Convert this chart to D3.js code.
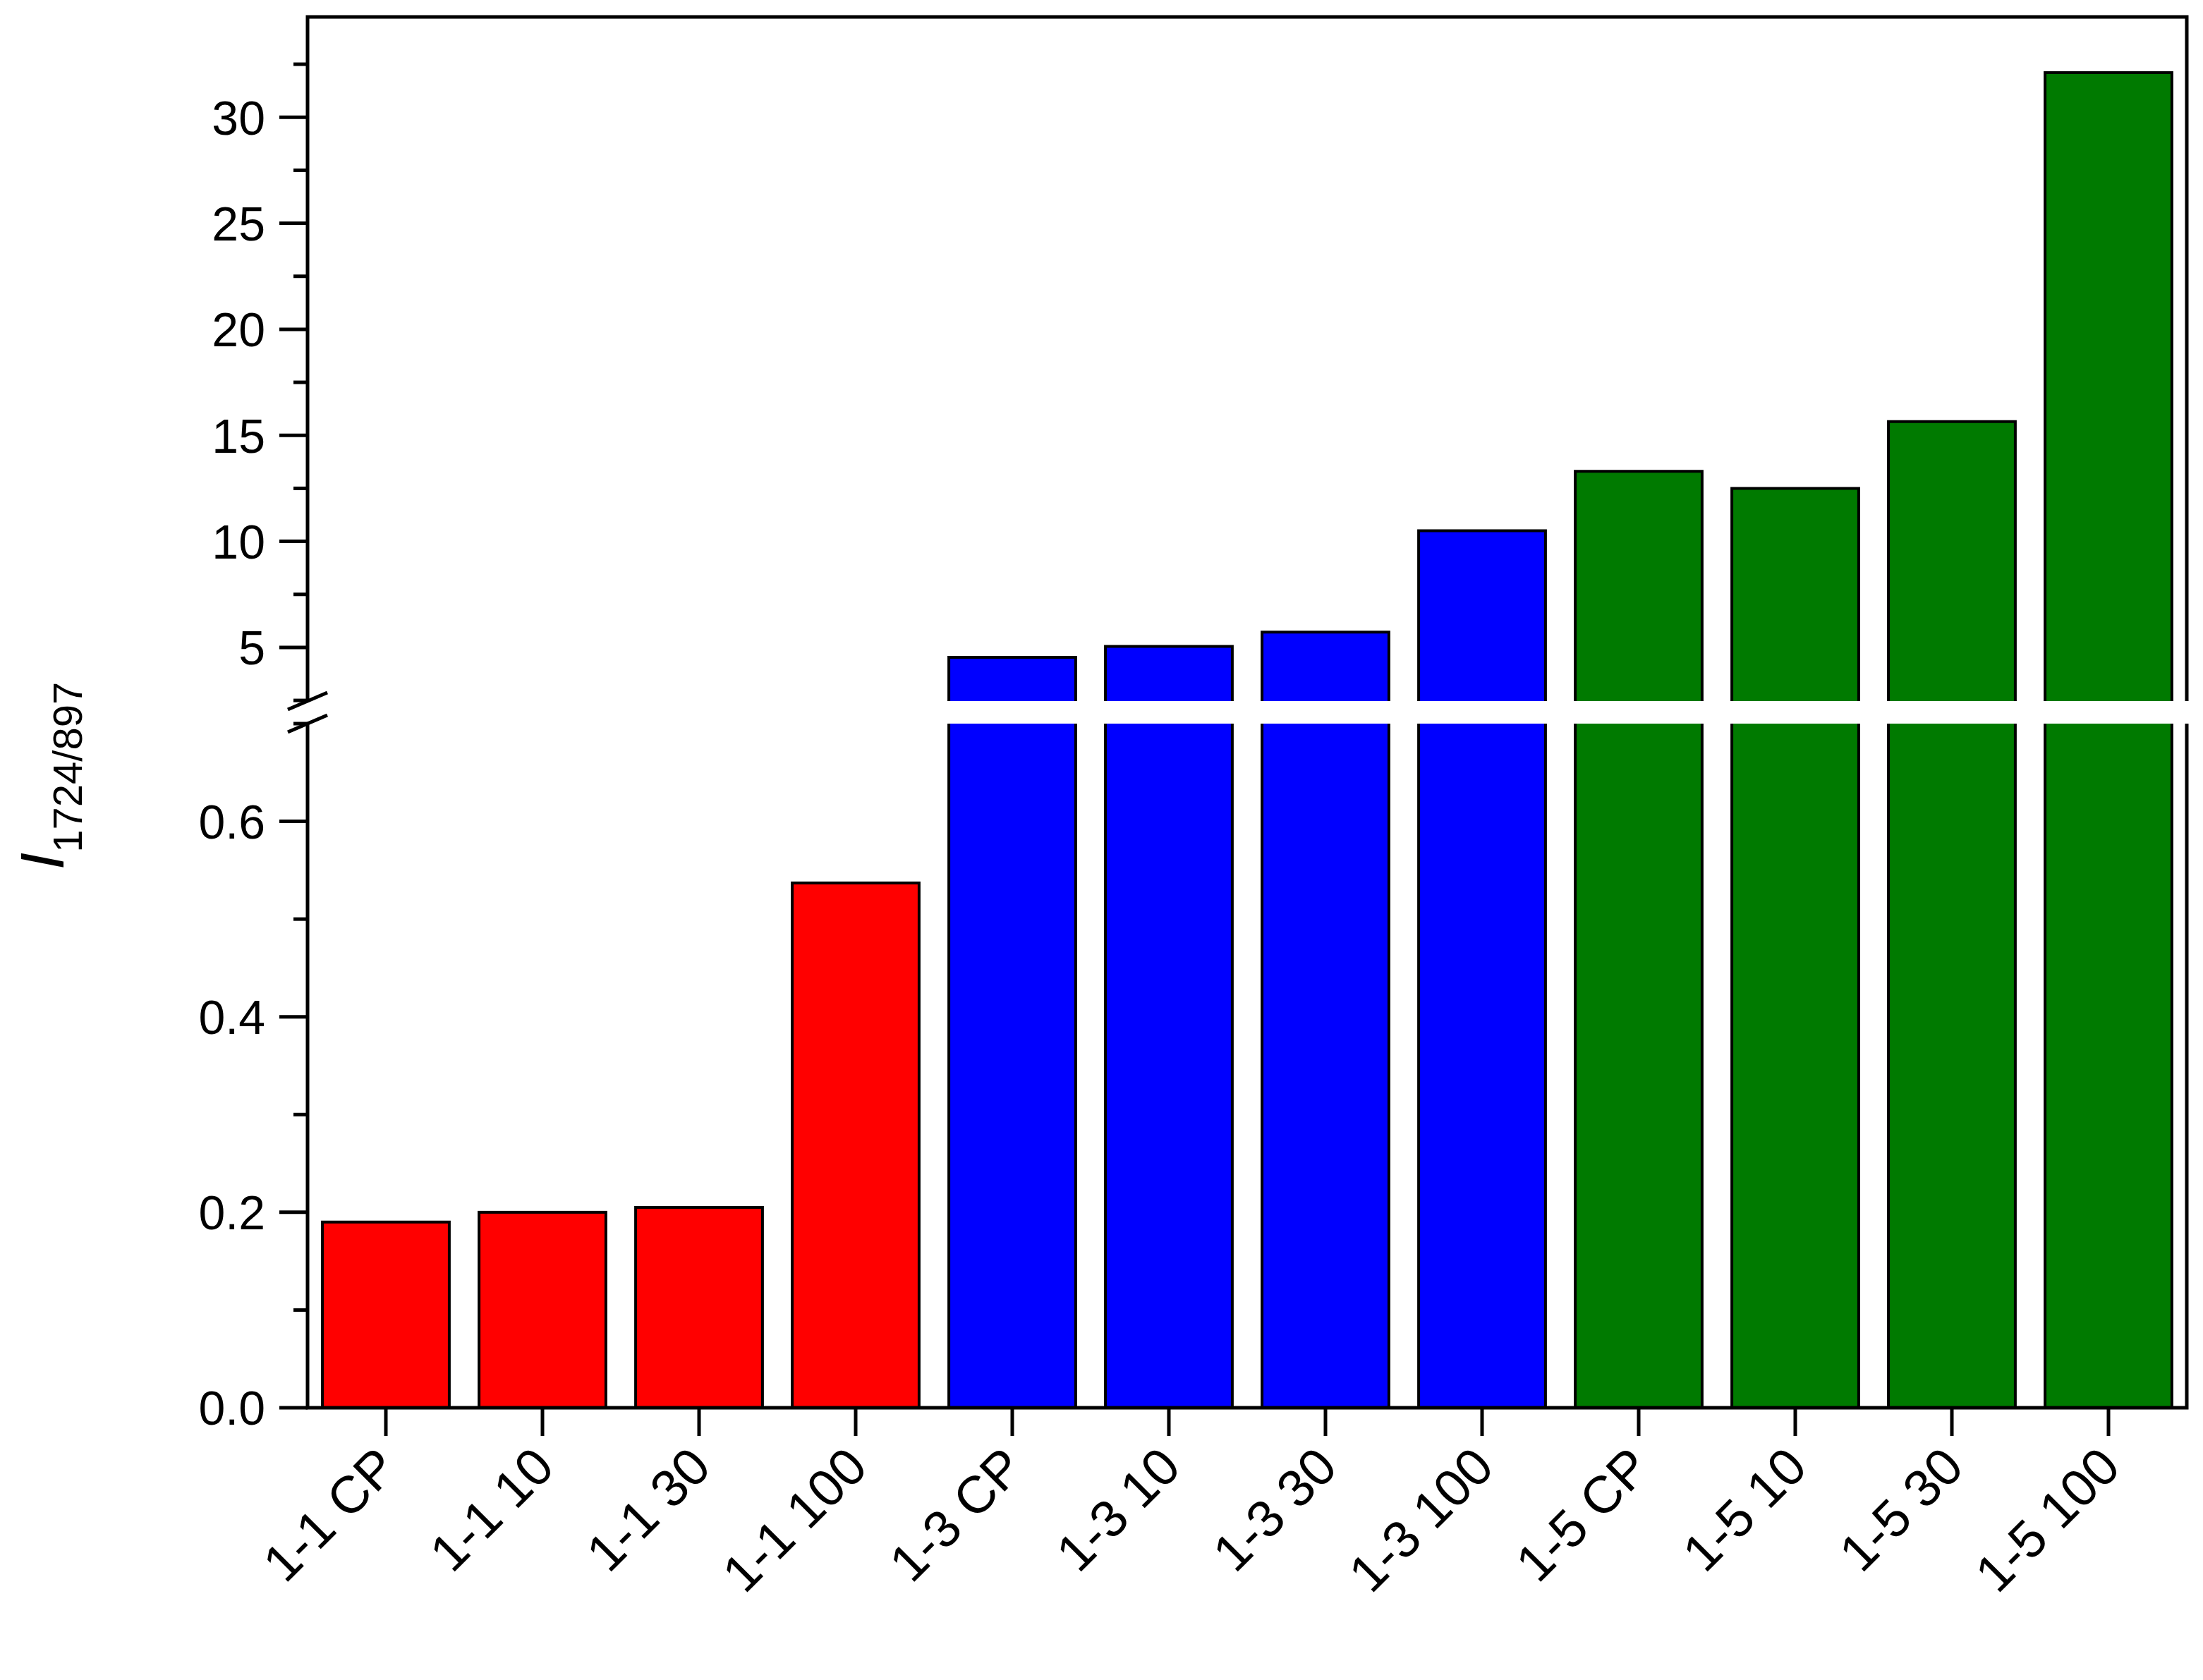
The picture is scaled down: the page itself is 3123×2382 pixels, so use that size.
<!DOCTYPE html>
<meta charset="utf-8">
<style>
	body { margin: 0; background: #fff; }
	text { font-family: Arial, "Liberation Sans", sans-serif; fill: #000; }
</style>
<body>
<svg id="chart" width="3123" height="2382" viewBox="0 0 1561.5 1191"></svg>
<script src="https://cdn.jsdelivr.net/npm/d3@7"></script>
<script>
	var categories = ["1-1 CP", "1-1 10", "1-1 30", "1-1 100", "1-3 CP", "1-3 10", "1-3 30", "1-3 100", "1-5 CP", "1-5 10", "1-5 30", "1-5 100"];
	var values = [0.19, 0.2, 0.205, 0.537, 4.53, 5.05, 5.72, 10.5, 13.3, 12.5, 15.65, 32.1];
	var barColors = ["#ff0000", "#ff0000", "#ff0000", "#ff0000", "#0000ff", "#0000ff", "#0000ff", "#0000ff", "#007a00", "#007a00", "#007a00", "#007a00"];
	var lowerTicks = [0.0, 0.2, 0.4, 0.6];
	var lowerMinor = [0.1, 0.3, 0.5, 0.7];
	var upperTicks = [5, 10, 15, 20, 25, 30];
	var upperMinor = [2.5, 7.5, 12.5, 17.5, 22.5, 27.5, 32.5];

	var pLeft = 218, pRight = 1550, pTop = 12, pBottom = 998;
	var gapTop = 497, gapBot = 513;
	var svg = d3.select("#chart");

	var x = d3.scaleBand().domain(categories).range([pLeft, pRight]).paddingInner(0.19).paddingOuter(0.095);
	var yLow = d3.scaleLinear().domain([0, 0.7]).range([pBottom, gapBot]);
	var yUp = d3.scaleLinear().domain([2.47, 34.73]).range([gapTop, pTop]);

	// bars: lower part then upper part
	categories.forEach(function(c, i) {
		var v = values[i];
		if (v <= 0.7) {
			svg.append("rect").attr("x", x(c)).attr("width", x.bandwidth())
				.attr("y", yLow(v)).attr("height", pBottom - yLow(v))
				.attr("fill", barColors[i]).attr("stroke", "#000").attr("stroke-width", 2);
		} else {
			svg.append("path")
				.attr("d", "M" + x(c) + "," + gapBot + "V" + pBottom + "H" + (x(c) + x.bandwidth()) + "V" + gapBot)
				.attr("fill", barColors[i]).attr("stroke", "#000").attr("stroke-width", 2);
			svg.append("path")
				.attr("d", "M" + x(c) + "," + gapTop + "V" + yUp(v) + "H" + (x(c) + x.bandwidth()) + "V" + gapTop)
				.attr("fill", barColors[i]).attr("stroke", "#000").attr("stroke-width", 2);
		}
	});

	// frame
	function line(d) {
		return svg.append("path").attr("d", d).attr("stroke", "#000").attr("stroke-width", 2.5).attr("fill", "none");
	}
	line("M" + pLeft + "," + gapTop + "V" + pTop + "H" + pRight + "V" + gapTop);
	line("M" + pLeft + "," + gapBot + "V" + pBottom + "H" + pRight + "V" + gapBot);
	// break marks
	line("M" + (pLeft - 14) + "," + (gapTop + 6) + "L" + (pLeft + 14) + "," + (gapTop - 6));
	line("M" + (pLeft - 14) + "," + (gapBot + 6) + "L" + (pLeft + 14) + "," + (gapBot - 6));

	// y ticks
	function yTicks(scale, major, minor, fmt) {
		major.forEach(function(t) {
			line("M" + pLeft + "," + scale(t) + "h-20");
			svg.append("text").attr("x", pLeft - 30).attr("y", scale(t)).attr("dy", "0.36em")
				.attr("text-anchor", "end").attr("font-size", 34).text(fmt(t));
		});
		minor.forEach(function(t) { line("M" + pLeft + "," + scale(t) + "h-10"); });
	}
	yTicks(yLow, lowerTicks, lowerMinor, d3.format(".1f"));
	yTicks(yUp, upperTicks, upperMinor, d3.format("d"));

	// x ticks + labels
	categories.forEach(function(c) {
		var cx = x(c) + x.bandwidth() / 2;
		line("M" + cx + "," + pBottom + "v20");
		svg.append("text").attr("transform", "translate(" + (cx + 10) + "," + (pBottom + 44) + ") rotate(-45)")
			.attr("text-anchor", "end").attr("font-size", 37).text(c);
	});

	// y label
	var lab = svg.append("text").attr("transform", "translate(45,550) rotate(-90)")
		.attr("text-anchor", "middle").attr("font-size", 44);
	lab.append("tspan").attr("font-style", "italic").text("I");
	lab.append("tspan").attr("font-size", 29).attr("dy", 13).text("1724/897");
</script>
</body>
